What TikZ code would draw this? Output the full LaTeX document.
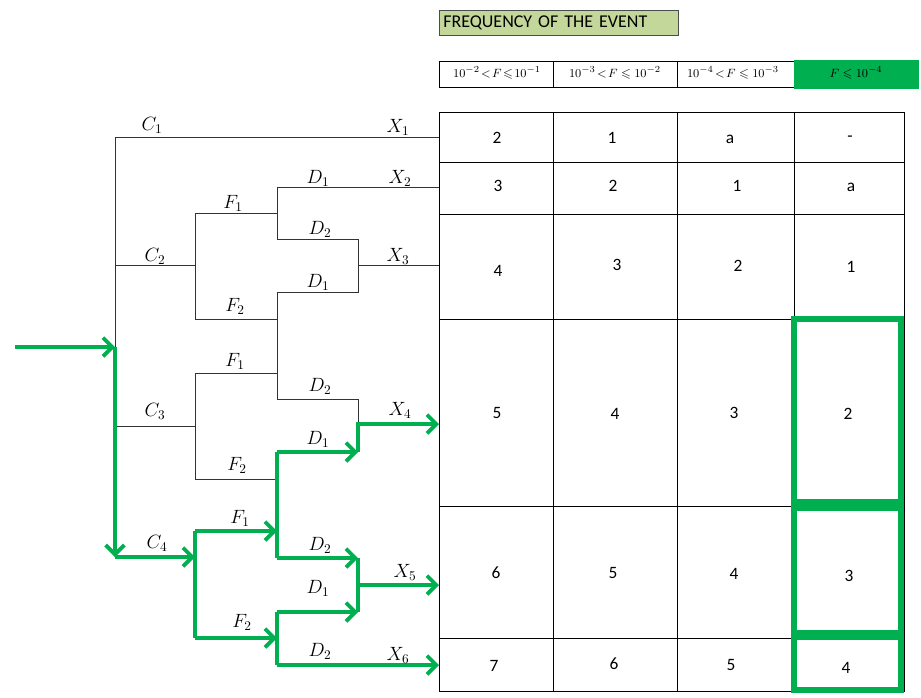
\documentclass[tikz,border=0pt]{standalone}
\usepackage{amsmath,amssymb}
\usepackage{fontspec}
\setsansfont{Carlito}
\usetikzlibrary{arrows.meta}
\definecolor{pathgreen}{RGB}{0,176,80}
\definecolor{headolive}{RGB}{196,215,155}

\begin{document}
\begin{tikzpicture}[
    x=0.75pt,y=-0.75pt,
    branch/.style={draw=black!80,line width=0.7pt},
    route/.style={draw=pathgreen,line width=2.8pt},
    arrow/.style={route,-{Straight Barb[length=7pt,width=14pt]}},
    lbl/.style={inner sep=0pt,font=\fontsize{14}{16}\selectfont},
    num/.style={inner sep=0pt,font=\sffamily\fontsize{13}{15}\selectfont},
    band/.style={inner sep=0pt,font=\fontsize{9.5}{11}\selectfont},
    pick/.style={draw=pathgreen,line width=5pt}
]
    \useasboundingbox (0,0) rectangle (921,697);

    \node[draw=black!70,fill=headolive,anchor=north west,minimum height=19pt,text width=173pt,inner sep=3pt,align=left,font=\sffamily\fontsize{13.5}{15}\selectfont] (title) at (439,10) {FREQUENCY OF THE EVENT};

    \fill[pathgreen] (794,60) rectangle (919,89);
    \draw[black,line width=0.6pt] (794,61) -- (439,61) -- (439,87) -- (794,87) (553,61) -- (553,87) (677,61) -- (677,87);
    \node[band] (b1) at (497,73) {$10^{-2}\!<\!F\!\leqslant\!10^{-1}$};
    \node[band] (b2) at (615,73) {$10^{-3}\!<\!F\leqslant 10^{-2}$};
    \node[band] (b3) at (733,73) {$10^{-4}\!<\!F\leqslant 10^{-3}$};
    \node[band] (b4) at (856,73) {$F\leqslant 10^{-4}$};

    \draw[black,line width=0.6pt] (439,112) rectangle (904,691);
    \draw[black,line width=0.6pt] (553,112) -- (553,691) (677,112) -- (677,691) (794,112) -- (794,691)
        (439,162) -- (904,162) (439,214) -- (904,214) (439,319) -- (904,319) (439,506) -- (904,506) (439,638) -- (904,638);

    \node[num] (n11) at (497,138) {2}; \node[num] (n12) at (612,138) {1}; \node[num] (n13) at (730,139) {a}; \node[num] (n14) at (850,139) {-};
    \node[num] (n21) at (498,186) {3}; \node[num] (n22) at (613,186) {2}; \node[num] (n23) at (737,186) {1}; \node[num] (n24) at (851,187) {a};
    \node[num] (n31) at (498,271) {4}; \node[num] (n32) at (617,265) {3}; \node[num] (n33) at (738,266) {2}; \node[num] (n34) at (851,267) {1};
    \node[num] (n41) at (497,413) {5}; \node[num] (n42) at (615,414) {4}; \node[num] (n43) at (734,413) {3}; \node[num] (n44) at (848,414) {2};
    \node[num] (n51) at (496,573) {6}; \node[num] (n52) at (613,573) {5}; \node[num] (n53) at (734,574) {4}; \node[num] (n54) at (849,576) {3};
    \node[num] (n61) at (494,666) {7}; \node[num] (n62) at (614,664) {6}; \node[num] (n63) at (731,665) {5}; \node[num] (n64) at (846,668) {4};

    \draw[pick] (794,319) rectangle (901,502);
    \draw[pick] (794,508) rectangle (901,633);
    \draw[pick] (794,637) rectangle (901,690);

    \coordinate (r1) at (115,137); \coordinate (x1) at (439,137);
    \coordinate (r2) at (115,265); \coordinate (s2) at (195,265);
    \coordinate (s2a) at (195,213); \coordinate (s2b) at (195,319); \coordinate (t1) at (277,213);
    \coordinate (d1a) at (277,187); \coordinate (d2a) at (277,239); \coordinate (x2) at (439,187);
    \coordinate (j3a) at (358,239); \coordinate (j3b) at (358,292); \coordinate (j3) at (358,265); \coordinate (x3) at (439,265);
    \coordinate (d1b) at (277,292); \coordinate (t2) at (277,319); \coordinate (d2b) at (277,399);
    \coordinate (r3) at (115,426); \coordinate (s3) at (195,426);
    \coordinate (s3a) at (195,373); \coordinate (s3b) at (195,479); \coordinate (t3) at (277,373); \coordinate (t4) at (277,479);
    \coordinate (j4a) at (358,399); \coordinate (j4) at (358,424); \coordinate (j4b) at (358,452); \coordinate (x4) at (439,424);
    \coordinate (in) at (15,347); \coordinate (r0) at (115,347); \coordinate (r4) at (115,557);
    \coordinate (s4) at (195,557); \coordinate (s4a) at (195,531); \coordinate (s4b) at (195,638);
    \coordinate (t5) at (277,531); \coordinate (t6) at (277,638);
    \coordinate (d1c) at (277,452); \coordinate (d2c) at (277,558);
    \coordinate (j5a) at (358,558); \coordinate (j5b) at (358,612); \coordinate (j5) at (358,585); \coordinate (x5) at (439,585);
    \coordinate (d1d) at (277,612); \coordinate (d2d) at (277,665); \coordinate (x6) at (439,665);

    \draw[branch] (r0) -- (r1) -- (x1);
    \draw[branch] (r2) -- (s2);
    \draw[branch] (s2a) -- (s2b);
    \draw[branch] (s2a) -- (t1);
    \draw[branch] (d1a) -- (d2a);
    \draw[branch] (d1a) -- (x2);
    \draw[branch] (d2a) -- (j3a) -- (j3b) -- (d1b);
    \draw[branch] (j3) -- (x3);
    \draw[branch] (s2b) -- (t2);
    \draw[branch] (d1b) -- (d2b);
    \draw[branch] (r3) -- (s3);
    \draw[branch] (s3a) -- (s3b);
    \draw[branch] (s3a) -- (t3);
    \draw[branch] (d2b) -- (j4a) -- (j4);
    \draw[branch] (s3b) -- (t4);

    \draw[arrow] (in) -- (r0);
    \draw[arrow] (r0) -- (r4);
    \draw[arrow] (r4) -- (s4);
    \draw[route,line width=3.6pt] (s4a) -- (s4b);
    \draw[arrow] (s4a) -- (t5);
    \draw[arrow] (s4b) -- (t6);
    \draw[route] (d1c) -- (d2c);
    \draw[arrow] (d1c) -- (j4b);
    \draw[arrow] (j4b) -- (j4) -- (x4);
    \draw[arrow] (d2c) -- (j5a);
    \draw[route] (j5a) -- (j5b);
    \draw[arrow] (j5) -- (x5);
    \draw[route] (d1d) -- (d2d);
    \draw[arrow] (d1d) -- (j5b);
    \draw[arrow] (d2d) -- (x6);

    \node[lbl] (lc1) at (152,125) {$C_1$};
    \node[lbl] (lx1) at (398,127) {$X_1$};
    \node[lbl] (ld1) at (318,178) {$D_1$};
    \node[lbl] (lx2) at (400,178) {$X_2$};
    \node[lbl] (lf1) at (233,203) {$F_1$};
    \node[lbl] (ld2) at (320,229) {$D_2$};
    \node[lbl] (lc2) at (155,256) {$C_2$};
    \node[lbl] (lx3) at (398,256) {$X_3$};
    \node[lbl] (ld3) at (318,282) {$D_1$};
    \node[lbl] (lf2) at (235,306) {$F_2$};
    \node[lbl] (lf3) at (235,361) {$F_1$};
    \node[lbl] (ld4) at (320,386) {$D_2$};
    \node[lbl] (lc3) at (155,411) {$C_3$};
    \node[lbl] (lx4) at (400,410) {$X_4$};
    \node[lbl] (ld5) at (318,439) {$D_1$};
    \node[lbl] (lf4) at (237,465) {$F_2$};
    \node[lbl] (lf5) at (240,518) {$F_1$};
    \node[lbl] (lc4) at (157,543) {$C_4$};
    \node[lbl] (ld6) at (320,545) {$D_2$};
    \node[lbl] (lx5) at (405,572) {$X_5$};
    \node[lbl] (ld7) at (318,588) {$D_1$};
    \node[lbl] (lf6) at (242,622) {$F_2$};
    \node[lbl] (ld8) at (320,651) {$D_2$};
    \node[lbl] (lx6) at (398,655) {$X_6$};
\end{tikzpicture}
\end{document}
